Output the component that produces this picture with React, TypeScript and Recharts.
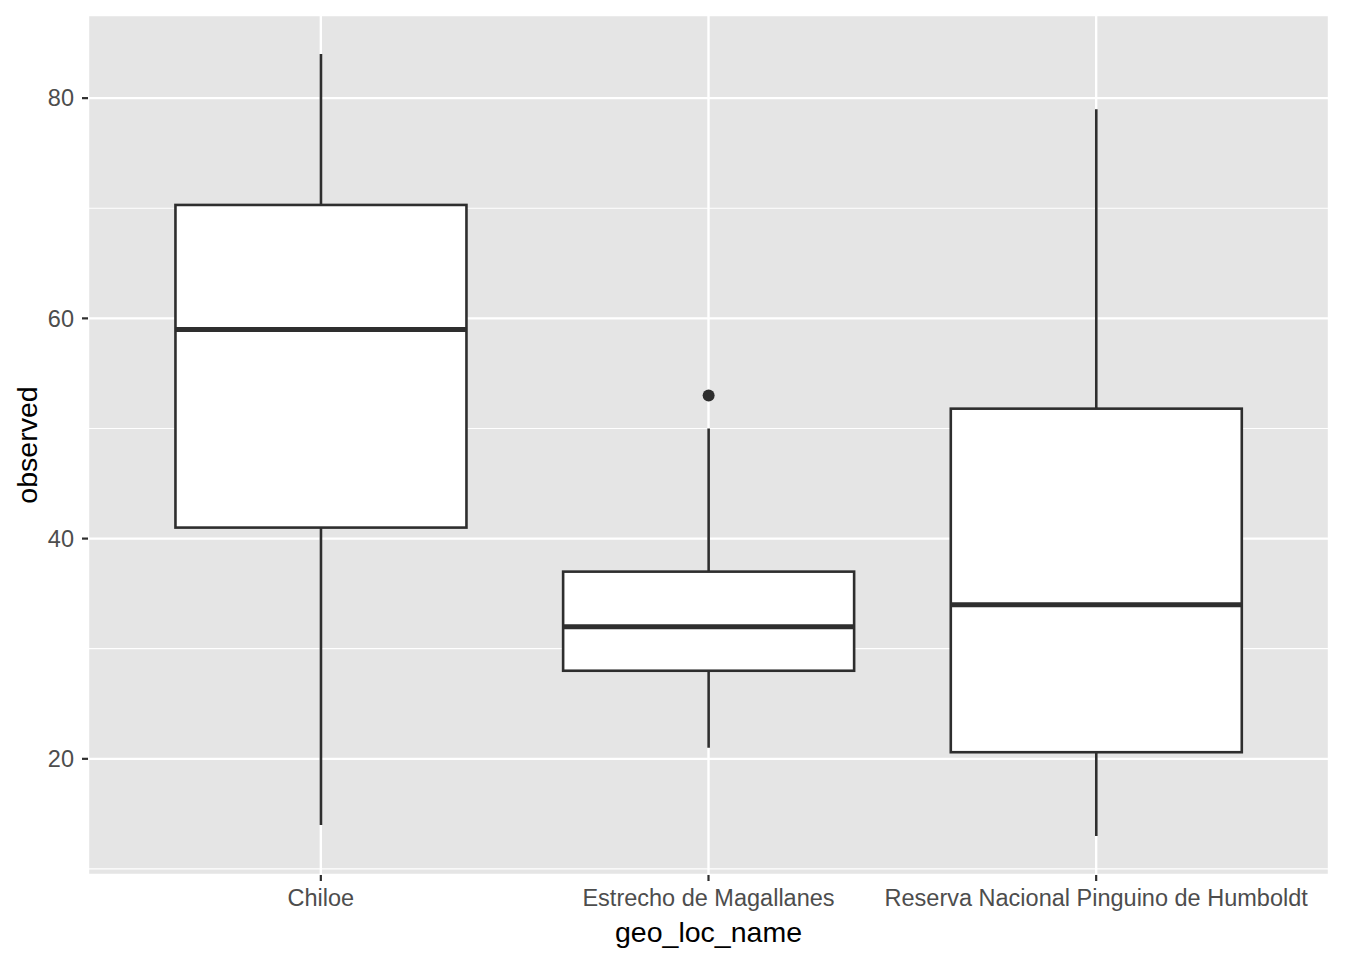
import { ComposedChart, Bar, XAxis, YAxis, CartesianGrid } from "recharts"

// box stats
const locations = ["Chiloe", "Estrecho de Magallanes", "Reserva Nacional Pinguino de Humboldt"]
const whiskerLow = [14, 21, 13]
const q1 = [41, 28, 20.6]
const median = [59, 32, 34]
const q3 = [70.3, 37, 51.8]
const whiskerHigh = [84, 50, 79]
const outliers = [[], [53], []]

const yTicks = [20, 40, 60, 80]
const minorTicks = [10, 30, 50, 70]
const yDomain = [9.45, 87.55]

const data = locations.map((name, i) => ({
  name,
  low: whiskerLow[i],
  q1: q1[i],
  median: median[i],
  q3: q3[i],
  high: whiskerHigh[i],
  outliers: outliers[i],
}))

const FONT = "'Liberation Sans', Arial, Helvetica, sans-serif"
const INK = "#2e2e2e"

const BoxShape = (props: any) => {
  const { x, y, width, height, payload } = props
  if (!payload || !height) return null
  const unit = height / (payload.high - payload.low)
  const toY = (v: number) => y + (payload.high - v) * unit
  const cx = x + width / 2
  return (
    <g>
      <line x1={cx} x2={cx} y1={toY(payload.high)} y2={toY(payload.low)} stroke={INK} strokeWidth={2.6} />
      <rect
        x={x}
        y={toY(payload.q3)}
        width={width}
        height={toY(payload.q1) - toY(payload.q3)}
        fill="#ffffff"
        stroke={INK}
        strokeWidth={2.6}
      />
      <line x1={x} x2={x + width} y1={toY(payload.median)} y2={toY(payload.median)} stroke={INK} strokeWidth={5} />
      {(payload.outliers || []).map((v: number, i: number) => (
        <circle key={i} cx={cx} cy={toY(v)} r={6} fill={INK} />
      ))}
    </g>
  )
}

export default function App() {
  return (
    <div style={{ position: "absolute", left: 0, top: 0, width: 1352, height: 980, background: "#fff" }}>
      <ComposedChart
        width={1352}
        height={980}
        data={data}
        margin={{ top: 15, right: 23, left: 0, bottom: 0 }}
        barCategoryGap="12.5%"
      >
        <CartesianGrid fill="#E5E5E5" stroke="#ffffff" strokeWidth={2.4} />
        <CartesianGrid vertical={false} horizontalValues={minorTicks} stroke="#ffffff" strokeWidth={1.2} />
        <XAxis
          dataKey="name"
          type="category"
          padding={{ left: 39, right: 39 }}
          height={105}
          axisLine={false}
          tickLine={{ stroke: INK, strokeWidth: 2.2 }}
          tickSize={6}
          tickMargin={8}
          tick={{ fill: "#4D4D4D", fontSize: 23.5, fontFamily: FONT }}
          interval={0}
          label={{
            content: (p: any) => {
              const vb = p.viewBox
              return (
                <text x={vb.x + vb.width / 2} y={vb.y + 67} textAnchor="middle" fill="#000" fontSize={28.5} fontFamily={FONT}>
                  geo_loc_name
                </text>
              )
            },
          }}
        />
        <YAxis
          type="number"
          domain={yDomain}
          ticks={yTicks}
          width={88}
          axisLine={false}
          tickLine={{ stroke: INK, strokeWidth: 2.2 }}
          tickSize={6}
          tickMargin={8}
          tick={{ fill: "#4D4D4D", fontSize: 23.5, fontFamily: FONT }}
          label={{
            content: (p: any) => {
              const vb = p.viewBox
              const lx = vb.x + 37
              const ly = vb.y + vb.height / 2
              return (
                <text
                  x={lx}
                  y={ly}
                  transform={`rotate(-90 ${lx} ${ly})`}
                  textAnchor="middle"
                  fill="#000"
                  fontSize={28.5}
                  fontFamily={FONT}
                >
                  observed
                </text>
              )
            },
          }}
        />
        <Bar dataKey={(d: any) => [d.low, d.high]} shape={<BoxShape />} isAnimationActive={false} />
      </ComposedChart>
    </div>
  )
}
